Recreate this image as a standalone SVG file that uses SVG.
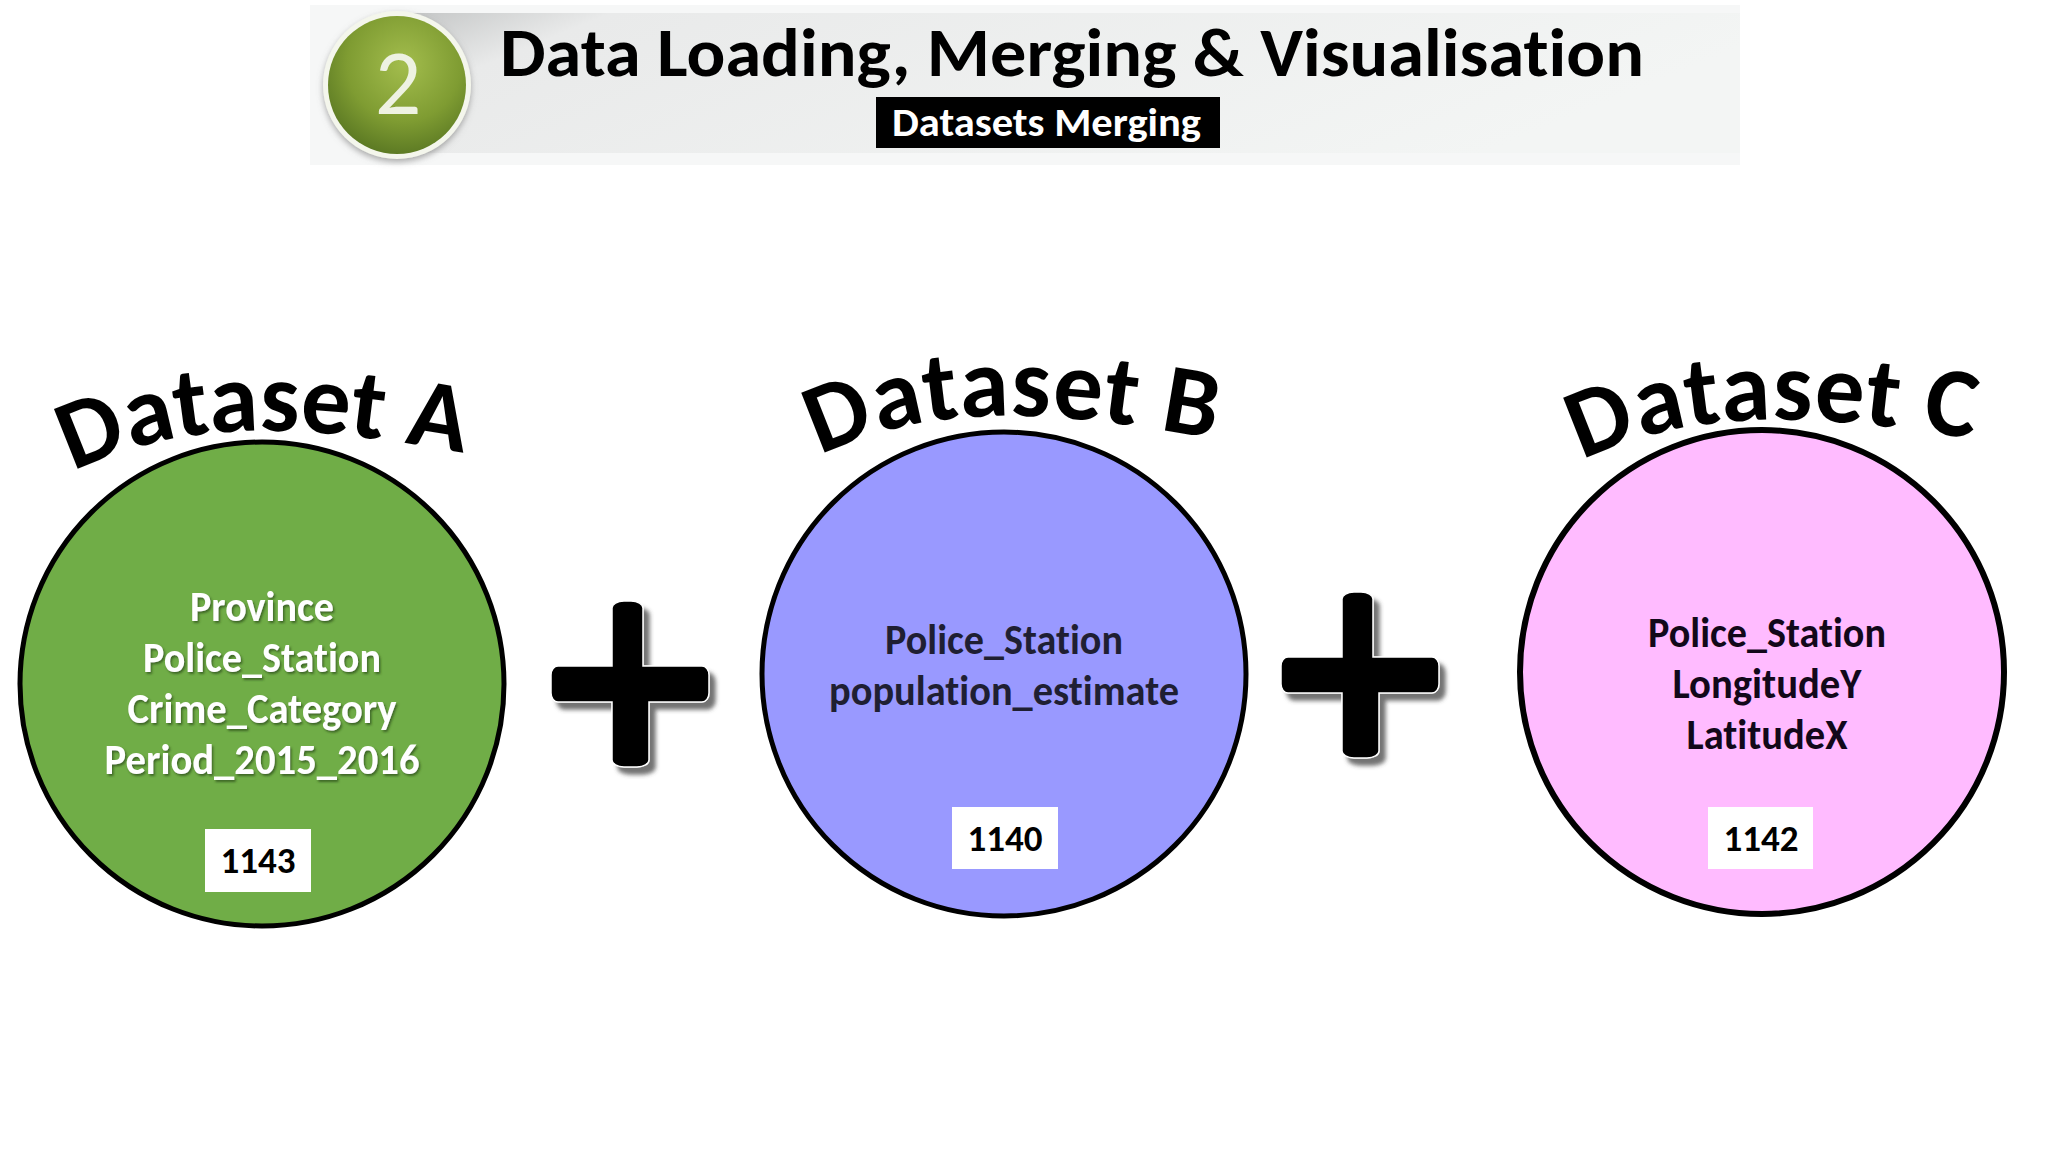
<svg xmlns="http://www.w3.org/2000/svg" xmlns:xlink="http://www.w3.org/1999/xlink" width="2048" height="1152" viewBox="0 0 2048 1152">
<style>
text{font-family:Carlito,Lato,"Liberation Sans",sans-serif;font-weight:700;font-variant-ligatures:none}
.ds{stroke:#000;stroke-width:5}
.c{text-anchor:middle;font-size:43px}
.n{text-anchor:middle;font-size:37px;fill:#000}
.arc{font-size:99px;fill:#000}
</style>
<defs>
<linearGradient id="band" x1="0" x2="1" y1="0" y2="0.25">
<stop offset="0" stop-color="#bfc1c1"/><stop offset="0.16" stop-color="#e9eaea"/><stop offset="1" stop-color="#f3f5f4"/>
</linearGradient>
<radialGradient id="ball" cx="0.55" cy="0.35" r="0.75">
<stop offset="0" stop-color="#a3bd4d"/><stop offset="0.55" stop-color="#7f9c32"/><stop offset="1" stop-color="#4f6d1e"/>
</radialGradient>
<filter id="ts" x="-10%" y="-20%" width="120%" height="150%"><feDropShadow dx="1.5" dy="2" stdDeviation="1.2" flood-color="#2f4f1c" flood-opacity="0.75"/></filter>
<filter id="ps" x="-20%" y="-20%" width="140%" height="140%"><feDropShadow dx="6" dy="7" stdDeviation="2" flood-color="#444" flood-opacity="0.75"/></filter>
<filter id="bs" x="-20%" y="-20%" width="140%" height="140%"><feDropShadow dx="0" dy="3" stdDeviation="3" flood-color="#777" flood-opacity="0.6"/></filter>
<path id="plus" d="M-12 -83h13a12 7 0 0 1 12 7V-18H72a7 9 0 0 1 7 9V9a7 9 0 0 1-7 9H19V76a12 7 0 0 1-12 7h-13a12 7 0 0 1-12-7V18H-72a7 9 0 0 1-7-9V-9a7 9 0 0 1 7-9H-18V-76a12 7 0 0 1 12-7z" fill="#000" stroke="#fff" stroke-width="1.5"/>
<path id="arcA" d="M73 472 C191 412 329 429 457 452 L555 470"/>
<path id="arcB" d="M820 456 C938 396 1078 415 1209 438 L1307 456"/>
<path id="arcC" d="M1582 461 C1700 401 1844 418 1979 440 L2040 450"/>
</defs>
<rect width="2048" height="1152" fill="#fff"/>
<g id="header">
<rect x="310" y="5" width="1430" height="160" fill="#f6f7f7"/>
<rect x="380" y="13" width="1360" height="140" fill="url(#band)"/>
<circle cx="397" cy="85" r="74" fill="#f4f6ec" filter="url(#bs)"/>
<circle cx="397" cy="85" r="69" fill="url(#ball)"/>
<text x="398" y="114" font-size="92" text-anchor="middle" fill="#eef2e2" style="font-weight:400">2</text>
<text x="500" y="76" font-size="68" fill="#000" textLength="1144" lengthAdjust="spacingAndGlyphs">Data Loading, Merging &amp; Visualisation</text>
<rect x="876" y="97" width="344" height="51" fill="#000"/>
<text x="892" y="136" font-size="41" fill="#fff" textLength="309" lengthAdjust="spacingAndGlyphs">Datasets Merging</text>
</g>
<g id="dataset-a">
<circle class="ds" cx="262" cy="684" r="242" fill="#70ad47"/>
<text class="arc"><textPath href="#arcA">Dataset A</textPath></text>
<g fill="#fff" filter="url(#ts)">
<text class="c" x="262" y="621" textLength="144" lengthAdjust="spacingAndGlyphs">Province</text>
<text class="c" x="262" y="672" textLength="238" lengthAdjust="spacingAndGlyphs">Police_Station</text>
<text class="c" x="262" y="723" textLength="269" lengthAdjust="spacingAndGlyphs">Crime_Category</text>
<text class="c" x="262" y="774" textLength="315" lengthAdjust="spacingAndGlyphs">Period_2015_2016</text>
</g>
<rect x="205" y="829" width="106" height="63" fill="#fff"/>
<text class="n" x="258" y="873">1143</text>
</g>
<g id="dataset-b">
<circle class="ds" cx="1004" cy="674" r="242" fill="#9999ff"/>
<text class="arc" letter-spacing="1"><textPath href="#arcB">Dataset B</textPath></text>
<g fill="#1f1f33">
<text class="c" x="1004" y="654" textLength="238" lengthAdjust="spacingAndGlyphs">Police_Station</text>
<text class="c" x="1004" y="705" textLength="350" lengthAdjust="spacingAndGlyphs">population_estimate</text>
</g>
<rect x="952" y="807" width="106" height="62" fill="#fff"/>
<text class="n" x="1005" y="851">1140</text>
</g>
<g id="dataset-c">
<circle class="ds" cx="1762" cy="672" r="242" fill="#ffbbff" style="stroke-width:6"/>
<text class="arc" letter-spacing="1"><textPath href="#arcC">Dataset C</textPath></text>
<g fill="#12081a">
<text class="c" x="1767" y="647" textLength="238" lengthAdjust="spacingAndGlyphs">Police_Station</text>
<text class="c" x="1767" y="698" textLength="189" lengthAdjust="spacingAndGlyphs">LongitudeY</text>
<text class="c" x="1767" y="749" textLength="161" lengthAdjust="spacingAndGlyphs">LatitudeX</text>
</g>
<rect x="1708" y="807" width="105" height="62" fill="#fff"/>
<text class="n" x="1761" y="851">1142</text>
</g>
<g id="connectors">
<use href="#plus" x="630" y="684" filter="url(#ps)"/>
<use href="#plus" x="1360" y="675" filter="url(#ps)"/>
</g>
</svg>
